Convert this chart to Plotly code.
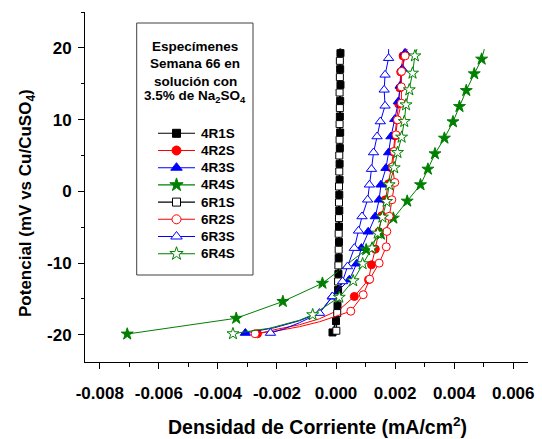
import plotly.graph_objects as go

# ---------------- data (x: mA/cm2, y: mV vs Cu/CuSO4) ----------------
series_names = ["4R1S", "4R2S", "4R3S", "4R4S", "6R1S", "6R2S", "6R3S", "6R4S"]

# marked points
x_4R1S = [0.00015, 0.00014, 0.00015, 0.00014, 0.00013, 0.00014, 0.00013, 0.00012, 0.00012, 0.00011,
          0.00011, 0.00010, 0.00010, 0.00009, 0.00008, 0.00007, 0.00005, 0.00000, -0.00012]
y_4R1S = [19.26, 17.03, 14.84, 12.61, 10.43, 8.20, 6.02, 3.83, 1.60, -0.49,
          -2.68, -4.91, -7.08, -9.31, -11.50, -13.73, -15.96, -18.10, -19.68]
xe_4R1S = [0.00015]
ye_4R1S = [19.9]

x_4R2S = [0.00227, 0.00219, 0.00216, 0.00212, 0.00205, 0.00200, 0.00194, 0.00187, 0.00178,
          0.00167, 0.00155, 0.00145, 0.00133, 0.00120, 0.00110, 0.00062, -0.00266]
y_4R2S = [18.88, 16.65, 14.42, 12.19, 9.96, 7.74, 5.51, 3.28, 1.05,
          -1.18, -3.41, -5.64, -8.06, -10.24, -12.33, -14.66, -19.86]
xe_4R2S = [0.00231, 0.00011, -0.00056, -0.00124, -0.00208]
ye_4R2S = [19.86, -16.52, -17.77, -18.61, -19.30]

x_4R3S = [0.00234, 0.00224, 0.00217, 0.00211, 0.00199, 0.00186, 0.00178, 0.00169, 0.00152,
          0.00146, 0.00133, 0.00109, 0.00086, 0.00070, 0.00045, -0.00013, -0.00307]
y_4R3S = [19.30, 17.07, 14.70, 12.52, 10.06, 7.64, 5.41, 3.23, 0.91,
          -1.18, -3.51, -5.64, -7.92, -10.10, -12.33, -14.70, -19.76]
xe_4R3S = [0.00241, -0.00056, -0.00124, -0.00208]
ye_4R3S = [19.82, -16.93, -18.05, -19.02]

x_4R4S = [0.00493, 0.00468, 0.00441, 0.00418, 0.00396, 0.00367, 0.00335, 0.00311, 0.00286,
          0.00241, 0.00194, 0.00152, 0.00102, -0.00046, -0.00180, -0.00338, -0.00707]
y_4R4S = [18.43, 16.38, 14.05, 11.82, 9.69, 7.41, 5.23, 3.09, 0.91,
          -1.37, -3.74, -5.97, -8.15, -12.82, -15.36, -17.70, -19.90]
xe_4R4S = [0.00502]
ye_4R4S = [19.82]

x_6R1S = [0.00013, 0.00013, 0.00012, 0.00013, 0.00012, 0.00012, 0.00011, 0.00011, 0.00010,
          0.00010, 0.00010, 0.00009, 0.00009, 0.00008, 0.00007, 0.00006, 0.00004, 0.00001]
y_6R1S = [18.19, 15.92, 13.77, 11.60, 9.37, 7.18, 4.99, 2.76, 0.67,
          -1.56, -3.74, -5.92, -8.15, -10.33, -12.57, -14.80, -16.98, -19.44]
xe_6R1S = [0.00013]
ye_6R1S = [19.9]

x_6R2S = [0.00234, 0.00222, 0.00221, 0.00221, 0.00208, 0.00203, 0.00197, 0.00191, 0.00199,
          0.00189, 0.00180, 0.00172, 0.00170, 0.00146, 0.00114, 0.00092, 0.00050, -0.00274]
y_6R2S = [18.88, 16.72, 14.56, 12.29, 9.96, 7.87, 5.55, 3.41, 1.23,
          -1.18, -3.48, -5.60, -7.74, -10.01, -12.26, -14.42, -16.72, -19.86]
xe_6R2S = [0.00238, 0.00001, -0.00056, -0.00124, -0.00198]
ye_6R2S = [19.86, -17.42, -18.19, -18.88, -19.44]

x_6R3S = [0.00178, 0.00166, 0.00163, 0.00166, 0.00150, 0.00139, 0.00127, 0.00120, 0.00113,
          0.00107, 0.00088, 0.00076, 0.00062, 0.00039, 0.00022, -0.00012, -0.00056, -0.00222]
y_6R3S = [18.56, 16.24, 14.15, 11.92, 9.73, 7.64, 5.41, 3.09, 0.91,
          -1.18, -3.51, -5.51, -7.92, -10.48, -12.57, -14.66, -16.98, -19.76]
xe_6R3S = [0.00178, -0.00124, -0.00175]
ye_6R3S = [19.82, -18.33, -19.16]

x_6R4S = [0.00267, 0.00259, 0.00248, 0.00237, 0.00231, 0.00222, 0.00208, 0.00197, 0.00180,
          0.00171, 0.00157, 0.00141, 0.00122, 0.00090, 0.00058, 0.00011, -0.00079, -0.00349]
y_6R4S = [18.88, 16.47, 14.15, 12.06, 9.73, 7.55, 5.41, 3.28, 0.91,
          -1.42, -3.60, -5.83, -7.92, -10.10, -12.47, -14.77, -17.21, -19.86]
xe_6R4S = [0.00274, -0.00124, -0.00225]
ye_6R4S = [19.82, -17.98, -19.09]

x_tickvals = [-0.008, -0.006, -0.004, -0.002, 0.0, 0.002, 0.004, 0.006]
x_ticktext = ["-0.008", "-0.006", "-0.004", "-0.002", "0.000", "0.002", "0.004", "0.006"]
y_tickvals = [-20, -10, 0, 10, 20]
y_ticktext = ["-20", "-10", "0", "10", "20"]

legend_title_lines = ["Especímenes", "Semana 66 en", "solución con", "3.5% de Na<sub>2</sub>SO<sub>4</sub>"]
x_title = "Densidad de Corriente (mA/cm<sup>2</sup>)"
y_title = "Potencial (mV vs Cu/CuSO<sub>4</sub>)"

# ---------------- layout / style ----------------
FIG_W, FIG_H = 542, 439
L, R, T, B = 85, 14, 12, 77
PW, PH = FIG_W - L - R, FIG_H - T - B
FONT = "Liberation Sans, Arial, sans-serif"


def px_x(px):
    return (px - L) / PW


def px_y(py):
    return (FIG_H - B - py) / PH


GREEN = "#008000"
styles = {
    "4R1S": dict(color="black", fill="black", symbol="square", size=7, lw=1.6, lsize=8),
    "4R2S": dict(color="red", fill="red", symbol="circle", size=8, lw=1.0, lsize=9),
    "4R3S": dict(color="blue", fill="blue", symbol="triangle-up", size=9, lw=1.0, lsize=10),
    "4R4S": dict(color=GREEN, fill=GREEN, symbol="star", size=9, lw=1.0, lsize=10),
    "6R1S": dict(color="black", fill="white", symbol="square", size=7, lw=1.0, lsize=8),
    "6R2S": dict(color="red", fill="white", symbol="circle", size=8, lw=1.0, lsize=9),
    "6R3S": dict(color="blue", fill="white", symbol="triangle-up", size=9, lw=1.0, lsize=10),
    "6R4S": dict(color=GREEN, fill="white", symbol="star", size=9, lw=1.0, lsize=10),
}

data = {
    "4R1S": (x_4R1S, y_4R1S, xe_4R1S, ye_4R1S),
    "4R2S": (x_4R2S, y_4R2S, xe_4R2S, ye_4R2S),
    "4R3S": (x_4R3S, y_4R3S, xe_4R3S, ye_4R3S),
    "4R4S": (x_4R4S, y_4R4S, xe_4R4S, ye_4R4S),
    "6R1S": (x_6R1S, y_6R1S, xe_6R1S, ye_6R1S),
    "6R2S": (x_6R2S, y_6R2S, xe_6R2S, ye_6R2S),
    "6R3S": (x_6R3S, y_6R3S, xe_6R3S, ye_6R3S),
    "6R4S": (x_6R4S, y_6R4S, xe_6R4S, ye_6R4S),
}

fig = go.Figure()

for name in series_names:
    mx, my, ex, ey = data[name]
    st = styles[name]
    pts = sorted(zip(mx + ex, my + ey), key=lambda p: -p[1])
    fig.add_trace(go.Scatter(
        x=[p[0] for p in pts], y=[p[1] for p in pts], mode="lines",
        line=dict(color=st["color"], width=st["lw"]),
        showlegend=False, hoverinfo="skip"))
    fig.add_trace(go.Scatter(
        x=mx, y=my, mode="markers", name=name, showlegend=False,
        marker=dict(symbol=st["symbol"], size=st["size"], color=st["fill"],
                    line=dict(color=st["color"], width=1))))

annotations = []
# legend (drawn by hand for exact spacing)
LEG_X0, LEG_X1, LEG_TXT = 158, 195, 199
LEG_Y0, LEG_DY = 133.3, 17.2
for i, name in enumerate(series_names):
    st = styles[name]
    yy = px_y(LEG_Y0 + i * LEG_DY)
    fig.add_trace(go.Scatter(
        x=[px_x(LEG_X0), px_x(LEG_X1)], y=[yy, yy], xaxis="x2", yaxis="y2",
        mode="lines", line=dict(color=st["color"], width=1.1),
        showlegend=False, hoverinfo="skip", cliponaxis=False))
    fig.add_trace(go.Scatter(
        x=[px_x((LEG_X0 + LEG_X1) / 2)], y=[yy], xaxis="x2", yaxis="y2",
        mode="markers", showlegend=False, hoverinfo="skip", cliponaxis=False,
        marker=dict(symbol=st["symbol"], size=st["lsize"], color=st["fill"],
                    line=dict(color=st["color"], width=1))))
    annotations.append(dict(
        text=name, x=px_x(LEG_TXT), y=yy, xref="paper", yref="paper",
        xanchor="left", yanchor="middle", showarrow=False,
        font=dict(family=FONT, size=13.5, color="black", weight="bold")))

title_y_px = [46.7, 63.3, 81.0, 96.7]
for line, ypx in zip(legend_title_lines, title_y_px):
    annotations.append(dict(
        text=line, x=px_x(195), y=px_y(ypx), xref="paper", yref="paper",
        xanchor="center", yanchor="middle", showarrow=False,
        font=dict(family=FONT, size=13.5, color="black", weight="bold")))

annotations.append(dict(
    text=x_title, x=px_x(317), y=px_y(426), xref="paper", yref="paper",
    xanchor="center", yanchor="middle", showarrow=False,
    font=dict(family=FONT, size=19.5, color="black", weight="bold")))
annotations.append(dict(
    text=y_title, x=px_x(27), y=px_y(203), xref="paper", yref="paper",
    xanchor="center", yanchor="middle", showarrow=False, textangle=-90,
    font=dict(family=FONT, size=17, color="black", weight="bold")))

shapes = [dict(type="rect", xref="paper", yref="paper",
               x0=px_x(136.7), x1=px_x(253), y0=px_y(275), y1=px_y(23),
               line=dict(color="#404040", width=1), fillcolor="rgba(0,0,0,0)", layer="below")]

tickfont = dict(family=FONT, size=17, color="black", weight="bold")
fig.update_layout(
    width=FIG_W, height=FIG_H,
    margin=dict(l=L, r=R, t=T, b=B, autoexpand=False),
    paper_bgcolor="white", plot_bgcolor="white",
    showlegend=False,
    font=dict(family=FONT, color="black"),
    xaxis=dict(range=[-0.0085, 0.0065], tickmode="array", tickvals=x_tickvals, ticktext=x_ticktext,
               showline=True, linecolor="black", linewidth=1, ticks="outside", ticklen=6,
               tickwidth=1, tickcolor="black", showgrid=False, zeroline=False, tickfont=tickfont,
               ticklabelstandoff=10,
               minor=dict(ticks="outside", ticklen=3.5, tickwidth=1, tickcolor="black",
                          dtick=0.001, tick0=0, showgrid=False)),
    yaxis=dict(range=[-23.8, 25], tickmode="array", tickvals=y_tickvals, ticktext=y_ticktext,
               showline=True, linecolor="black", linewidth=1, ticks="outside", ticklen=6,
               tickwidth=1, tickcolor="black", showgrid=False, zeroline=False, tickfont=tickfont,
               ticklabelstandoff=3,
               minor=dict(ticks="outside", ticklen=3.5, tickwidth=1, tickcolor="black",
                          dtick=5, tick0=0, showgrid=False)),
    xaxis2=dict(domain=[0, 1], range=[0, 1], visible=False, overlaying="x", anchor="y2", fixedrange=True),
    yaxis2=dict(domain=[0, 1], range=[0, 1], visible=False, overlaying="y", anchor="x2", fixedrange=True),
    annotations=annotations,
    shapes=shapes,
)

fig.write_html("out.html", config={"displayModeBar": False},
               post_script="document.body.style.margin='0';document.body.style.overflow='hidden';")
